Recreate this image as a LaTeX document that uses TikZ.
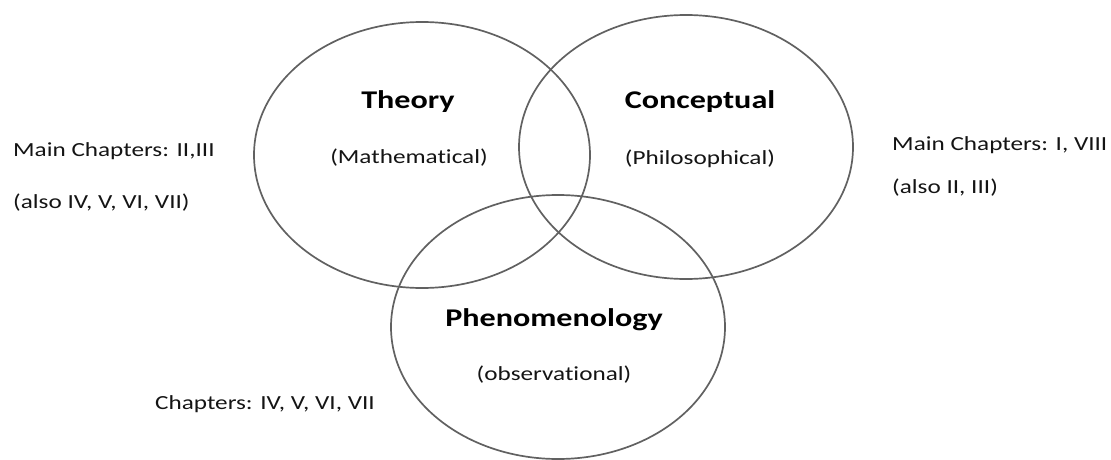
\documentclass[tikz,border=0pt]{standalone}
\usepackage{fontspec}
\setmainfont{Carlito}[FakeStretch=1.26,Ligatures={NoCommon}]
\begin{document}
\begin{tikzpicture}[x=1pt,y=-1pt,
  venn/.style={draw=black!62,line width=1.7pt},
  head/.style={font=\fontsize{25.5}{30}\selectfont\bfseries,text=black,inner sep=0pt,anchor=base},
  sub/.style={font=\fontsize{20}{24}\selectfont,text=black!92,inner sep=0pt,anchor=base},
  side/.style={font=\fontsize{20}{24}\selectfont,text=black!92,inner sep=0pt,anchor=base west}]
\useasboundingbox (0,0) rectangle (1111,460);
\draw[venn] (422,155) ellipse [x radius=168,y radius=133];
\draw[venn] (686,147) ellipse [x radius=167,y radius=132];
\draw[venn] (558,327) ellipse [x radius=167,y radius=132];
\node[head] (theory) at (408,108) {Theory};
\node[sub] (math) at (409,163) {(Mathematical)};
\node[head] (concept) at (700,108) {Conceptual};
\node[sub] (philo) at (700,164) {(Philosophical)};
\node[head] (pheno) at (554,326) {Phenomenology};
\node[sub] (obs) at (554,380) {(observational)};
\node[side] (l1) at (13,156) {Main Chapters: II,III};
\node[side] (l2) at (13,208) {(also IV, V, VI, VII)};
\node[side] (r1) at (892,150) {Main Chapters: I, VIII};
\node[side] (r2) at (892,193) {(also II, III)};
\node[side] (b1) at (155,409) {Chapters: IV, V, VI, VII};
\end{tikzpicture}
\end{document}
